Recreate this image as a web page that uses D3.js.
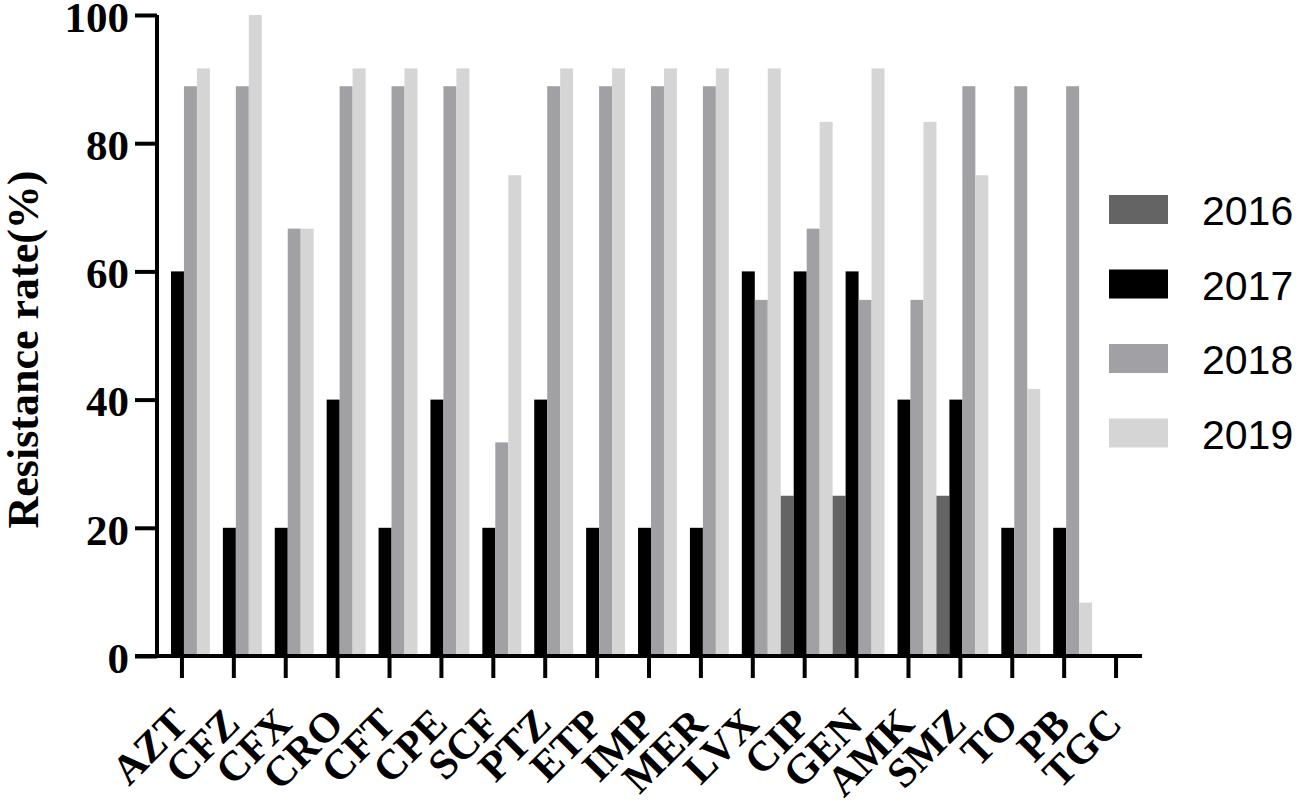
<!DOCTYPE html>
<html>
<head>
<meta charset="utf-8">
<script src="https://cdn.jsdelivr.net/npm/d3@7"></script>
<style>
  html, body { margin: 0; padding: 0; background: #fff; }
  svg { display: block; }
</style>
</head>
<body>
<svg id="chart" width="1299" height="800"></svg>
<script>
const categories = ["AZT","CFZ","CFX","CRO","CFT","CPE","SCF","PTZ","ETP","IMP","MER","LVX","CIP","GEN","AMK","SMZ","TO","PB","TGC"];
const years = ["2016","2017","2018","2019"];
const values2016 = [0,0,0,0,0,0,0,0,0,0,0,0,25,25,0,25,0,0,0];
const values2017 = [60,20,20,40,20,40,20,40,20,20,20,60,60,60,40,40,20,20,0];
const values2018 = [88.89,88.89,66.67,88.89,88.89,88.89,33.33,88.89,88.89,88.89,88.89,55.56,66.67,55.56,55.56,88.89,88.89,88.89,0];
const values2019 = [91.67,100,66.67,91.67,91.67,91.67,75,91.67,91.67,91.67,91.67,91.67,83.33,91.67,83.33,75,41.67,8.33,0];
const yTicks = [0,20,40,60,80,100];
const colors = ["#646464","#000000","#a1a1a5","#d5d5d5"];
const yTitle = "Resistance rate(%)";

const series = [values2016, values2017, values2018, values2019];
const svg = d3.select("#chart");

const x = d3.scaleBand().domain(categories).range([156, 1142]).padding(0);
const xs = d3.scaleBand().domain(years).range([0, x.bandwidth()]).padding(0);
const y = d3.scaleLinear().domain([0, 100]).range([656, 15]);

// bars
const groups = svg.append("g").selectAll("g")
  .data(categories)
  .join("g")
  .attr("transform", d => `translate(${x(d) + 2},0)`);

groups.selectAll("rect")
  .data((d, i) => years.map((yr, k) => ({yr, k, v: series[k][i]})))
  .join("rect")
  .attr("x", d => xs(d.yr))
  .attr("width", xs.bandwidth())
  .attr("y", d => y(d.v))
  .attr("height", d => y(0) - y(d.v))
  .attr("fill", d => colors[d.k]);

// y axis
const yAxis = svg.append("g")
  .attr("transform", "translate(157,0)")
  .call(d3.axisLeft(y).tickValues(yTicks).tickSize(22).tickPadding(6).tickFormat(d3.format("d")));
yAxis.select(".domain").attr("stroke", "#000").attr("stroke-width", 4).attr("d", `M0,${y(100)}V${y(0)}`);
yAxis.selectAll(".tick line").attr("stroke", "#000").attr("stroke-width", 4);
yAxis.selectAll(".tick text")
  .attr("font-family", "'Liberation Serif', 'Times New Roman', serif")
  .attr("font-weight", "bold")
  .attr("font-size", 43)
  .attr("fill", "#000")
  .attr("dy", "0.38em");

// x axis
const xAxis = svg.append("g")
  .attr("transform", `translate(0,${y(0)})`)
  .call(d3.axisBottom(x).tickSize(22).tickFormat(""));
xAxis.select(".domain").attr("stroke", "#000").attr("stroke-width", 4).attr("d", `M135,0H1142`);
xAxis.selectAll(".tick line").attr("stroke", "#000").attr("stroke-width", 4);

svg.append("g").selectAll("text")
  .data(categories)
  .join("text")
  .attr("transform", d => `translate(${x(d) + x.bandwidth()/2 + 8},726) rotate(-45)`)
  .attr("text-anchor", "end")
  .attr("font-family", "'Liberation Serif', 'Times New Roman', serif")
  .attr("font-weight", "bold")
  .attr("font-size", 42)
  .attr("fill", "#000")
  .text(d => d);

// y title
svg.append("text")
  .attr("transform", `translate(38,${(172 + 527) / 2}) rotate(-90)`)
  .attr("text-anchor", "middle")
  .attr("font-family", "'Liberation Serif', 'Times New Roman', serif")
  .attr("font-weight", "bold")
  .attr("font-size", 44)
  .attr("fill", "#000")
  .text(yTitle);

// legend
const legend = svg.append("g").selectAll("g")
  .data(years)
  .join("g")
  .attr("transform", (d, i) => `translate(1109,${195 + i * 74.5})`);
legend.append("rect")
  .attr("width", 59).attr("height", 29)
  .attr("fill", (d, i) => colors[i]);
legend.append("text")
  .attr("x", 93).attr("y", 30)
  .attr("font-family", "'Liberation Sans', Arial, sans-serif")
  .attr("font-size", 41)
  .attr("fill", "#000")
  .text(d => d);
</script>
</body>
</html>
